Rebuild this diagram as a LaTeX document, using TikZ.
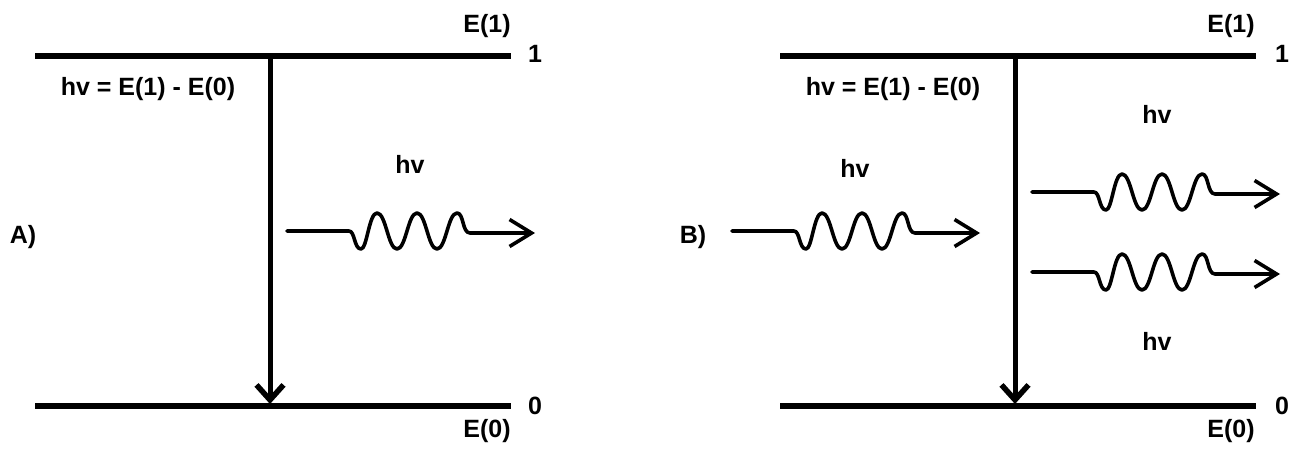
\documentclass[tikz,border=0pt]{standalone}
\usepackage{fontspec}
\setmainfont{Liberation Sans}
\usetikzlibrary{arrows.meta}
\tikzset{
  lvl/.style={line width=6pt},
  trans/.style={line width=5pt,-{Straight Barb[length=15pt,width=27pt,line width=5.5pt]}},
  wave/.style={line width=3.6pt,line cap=round,line join=round,
    -{Straight Barb[length=22pt,width=27pt,line width=3.6pt]}},
  lbl/.style={font=\bfseries\fontsize{25}{29}\selectfont,inner sep=0pt,anchor=base},
  photon/.pic={\draw[wave] (0,0) -- (62,0) .. controls (68,0) and (67,18) .. (74,18)
     .. controls (80,18) and (82,-18) .. (90,-18)
     .. controls (99,-18) and (101,18) .. (110,18)
     .. controls (119,18) and (121,-18) .. (130,-18)
     .. controls (139,-18) and (141,18) .. (150,18)
     .. controls (159,18) and (161,-18) .. (170,-18)
     .. controls (177,-18) and (175,2) .. (183,2) -- (248,2);}
}
\begin{document}
\begin{tikzpicture}[x=1pt,y=-1pt]
\useasboundingbox (0,0) rectangle (1303,448);
% ---------- panel A ----------
\coordinate (aTL) at (35,56);
\coordinate (aTR) at (511,56);
\coordinate (aBL) at (35,406);
\coordinate (aBR) at (511,406);
\coordinate (aT) at (270,56);
\coordinate (aB) at (270,404);
\draw[lvl] (aTL) -- (aTR);
\draw[lvl] (aBL) -- (aBR);
\draw[trans] (aT) -- (aB);
\node[lbl] (aE1) at (487,32) {E(1)};
\node[lbl] (aone) at (535,62) {1};
\node[lbl] (azero) at (535,414) {0};
\node[lbl] (aE0) at (487,437) {E(0)};
\node[lbl] (aeq) at (148,95) {hv = E(1) - E(0)};
\node[lbl] (ahv) at (410,173) {hv};
\node[lbl] (alab) at (23,243) {A)};
\coordinate (aw) at (287,231);
\pic at (aw) {photon};
% ---------- panel B ----------
\coordinate (bTL) at (780,56);
\coordinate (bTR) at (1256,56);
\coordinate (bBL) at (780,406);
\coordinate (bBR) at (1256,406);
\coordinate (bT) at (1015,56);
\coordinate (bB) at (1015,404);
\draw[lvl] (bTL) -- (bTR);
\draw[lvl] (bBL) -- (bBR);
\draw[trans] (bT) -- (bB);
\node[lbl] (bE1) at (1231,32) {E(1)};
\node[lbl] (bone) at (1282,62) {1};
\node[lbl] (bzero) at (1282,414) {0};
\node[lbl] (bE0) at (1231,437) {E(0)};
\node[lbl] (beq) at (893,95) {hv = E(1) - E(0)};
\node[lbl] (bhvin) at (855,177) {hv};
\node[lbl] (bhvup) at (1157,123) {hv};
\node[lbl] (bhvlo) at (1157,350) {hv};
\node[lbl] (blab) at (693,243) {B)};
\coordinate (bwin) at (732,231);
\coordinate (bwup) at (1032,192);
\coordinate (bwlo) at (1032,272);
\pic at (bwin) {photon};
\pic at (bwup) {photon};
\pic at (bwlo) {photon};
\end{tikzpicture}
\end{document}
